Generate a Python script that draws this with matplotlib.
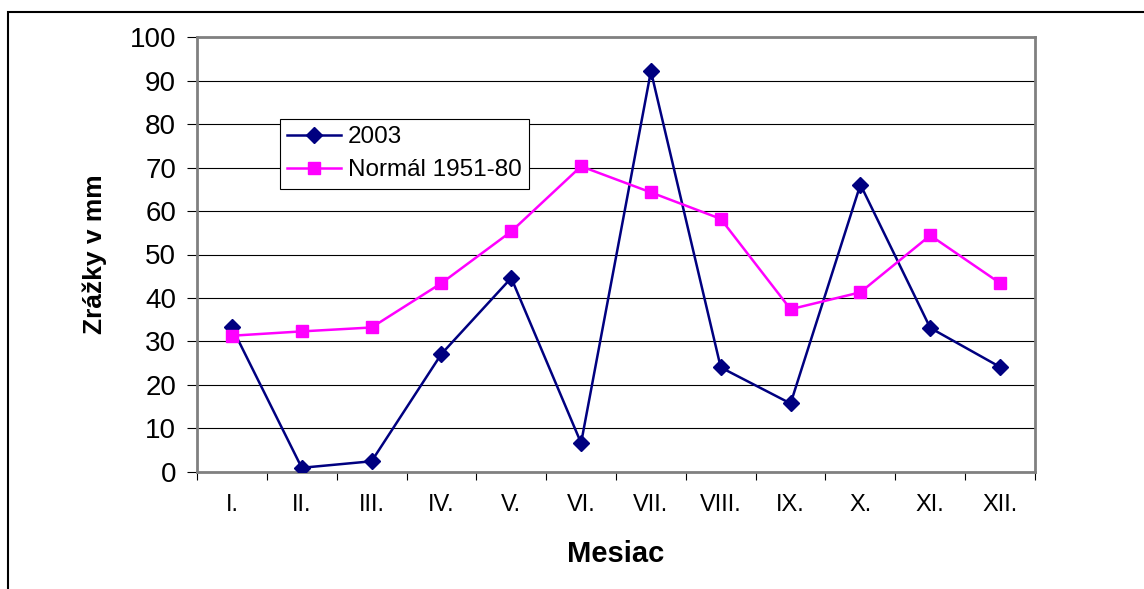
import numpy as np
import matplotlib.pyplot as plt
from matplotlib.patches import Rectangle

# data
months = ['I.', 'II.', 'III.', 'IV.', 'V.', 'VI.', 'VII.', 'VIII.', 'IX.', 'X.', 'XI.', 'XII.']
rain_2003 = [33.2, 0.9, 2.4, 27.1, 44.6, 6.6, 92.2, 24.0, 15.7, 66.1, 33.1, 24.1]
normal_1951_80 = [31.3, 32.3, 33.2, 43.4, 55.3, 70.3, 64.3, 58.2, 37.4, 41.3, 54.4, 43.4]
yticks = [0, 10, 20, 30, 40, 50, 60, 70, 80, 90, 100]

plt.rcParams['font.family'] = ['Liberation Sans', 'DejaVu Sans']

W, H = 1144, 589
fig = plt.figure(figsize=(W / 100, H / 100), dpi=100)

# outer chart frame (cropped at right and bottom)
fig.patches.append(Rectangle((8 / W, -0.1), 1.2, (H - 12) / H + 0.1, transform=fig.transFigure,
                             fill=False, edgecolor='black', linewidth=1.5))

ax = fig.add_axes([197 / W, (H - 471.7) / H, 838 / W, 434.4 / H])
x = np.arange(len(months))

ax.plot(x, rain_2003, color='#000080', lw=1.8, marker='D', markersize=8.5,
        markerfacecolor='#000080', markeredgecolor='#000080', label='2003', zorder=3)
ax.plot(x, normal_1951_80, color='#FF00FF', lw=1.8, marker='s', markersize=9,
        markerfacecolor='#FF00FF', markeredgecolor='#FF00FF', label='Normál 1951-80', zorder=4)

ax.set_xlim(-0.5, len(months) - 0.5)
ax.set_ylim(0, 100)
ax.set_yticks(yticks)
ax.set_yticklabels([str(v) for v in yticks], fontsize=20)
ax.yaxis.grid(True, color='black', lw=0.8)
ax.set_axisbelow(True)
ax.tick_params(axis='y', direction='out', length=7, width=0.8, pad=8)

# category ticks sit between months, labels at centres
ax.set_xticks(np.arange(-0.5, len(months), 1.0))
ax.set_xticklabels([])
ax.set_xticks(x, minor=True)
ax.set_xticklabels(months, minor=True, fontsize=17)
ax.tick_params(axis='x', which='major', direction='out', length=6, width=0.8)
ax.tick_params(axis='x', which='minor', length=0, pad=16)

for s in ax.spines.values():
    s.set_color('#808080')
    s.set_linewidth(2)

ax.set_xlabel('Mesiac', fontsize=21, fontweight='bold', labelpad=17)
ax.set_ylabel('Zrážky v mm', fontsize=19, fontweight='bold', labelpad=16)

leg = ax.legend(loc='upper left', bbox_to_anchor=((280 - 197) / 838, (471.7 - 119) / 434.4),
                borderaxespad=0, fontsize=17.5, frameon=True, fancybox=False, framealpha=1,
                edgecolor='black', handlelength=2.2, handletextpad=0.3, borderpad=0.3,
                labelspacing=0.45)
leg.get_frame().set_linewidth(0.8)

plt.savefig('out.png', dpi=100)
